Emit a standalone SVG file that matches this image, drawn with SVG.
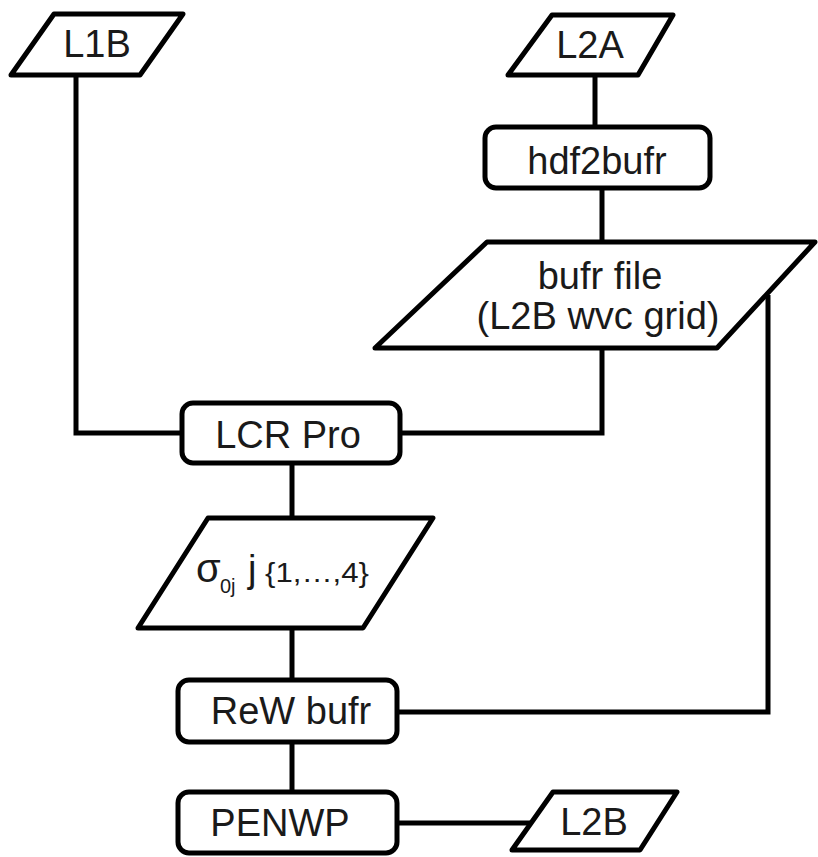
<svg xmlns="http://www.w3.org/2000/svg" width="818" height="857" viewBox="0 0 818 857">
<style>
.s{fill:#fff;stroke:#000;stroke-width:5;stroke-linejoin:round}
.c{fill:none;stroke:#000;stroke-width:5}
.t{font-family:"Liberation Sans",Arial,sans-serif;font-size:38px;fill:#1a1a1a;text-anchor:middle}
</style>
<rect width="818" height="857" fill="#fff"/>
<g id="connectors">
<polyline class="c" points="76,75 76,433 182,433"/>
<line class="c" x1="595" y1="75" x2="595" y2="127"/>
<line class="c" x1="602" y1="188" x2="602" y2="242"/>
<polyline class="c" points="602,348 602,433 400,433"/>
<line class="c" x1="292" y1="463" x2="292" y2="518"/>
<line class="c" x1="292" y1="628" x2="292" y2="680"/>
<polyline class="c" points="768,295 768,712 397,712"/>
<line class="c" x1="292" y1="742" x2="292" y2="792"/>
<line class="c" x1="397" y1="823" x2="532" y2="823"/>
</g>
<g id="L1B">
<polygon class="s" points="54,14 183,14 140,75 11,75"/>
<text class="t" x="97" y="57">L1B</text>
</g>
<g id="L2A">
<polygon class="s" points="552,15 673,15 638,75 508,75"/>
<text class="t" x="590" y="58">L2A</text>
</g>
<g id="hdf2bufr">
<rect class="s" x="485" y="127" width="225" height="61" rx="11"/>
<text class="t" x="597" y="174">hdf2bufr</text>
</g>
<g id="bufrfile">
<polygon class="s" points="487,242 815,242 717,348 375,348"/>
<text class="t" x="600" y="289" font-size="36">bufr file</text>
<text class="t" x="598" y="329" font-size="36" textLength="243" lengthAdjust="spacingAndGlyphs">(L2B wvc grid)</text>
</g>
<g id="LCRPro">
<rect class="s" x="182" y="403" width="218" height="60" rx="11"/>
<text class="t" x="288" y="448">LCR Pro</text>
</g>
<g id="sigma">
<polygon class="s" points="208,518 433,518 363,628 138,628"/>
<text font-family="Liberation Sans,Arial,sans-serif" fill="#1a1a1a" x="196" y="582" font-size="40">σ</text>
<text font-family="Liberation Sans,Arial,sans-serif" fill="#1a1a1a" x="220" y="593" font-size="20">0j</text>
<text font-family="Liberation Sans,Arial,sans-serif" fill="#1a1a1a" x="248" y="582" font-size="38">j</text>
<text font-family="Liberation Sans,Arial,sans-serif" fill="#1a1a1a" x="265" y="582" font-size="28" textLength="104" lengthAdjust="spacingAndGlyphs">{1,…,4}</text>
</g>
<g id="ReWbufr">
<rect class="s" x="178" y="680" width="219" height="62" rx="11"/>
<text class="t" x="291" y="724">ReW bufr</text>
</g>
<g id="PENWP">
<rect class="s" x="178" y="792" width="219" height="61" rx="11"/>
<text class="t" x="280" y="836">PENWP</text>
</g>
<g id="L2B">
<polygon class="s" points="553,792 677,792 640,850 512,850"/>
<text class="t" x="594" y="835">L2B</text>
</g>
</svg>
